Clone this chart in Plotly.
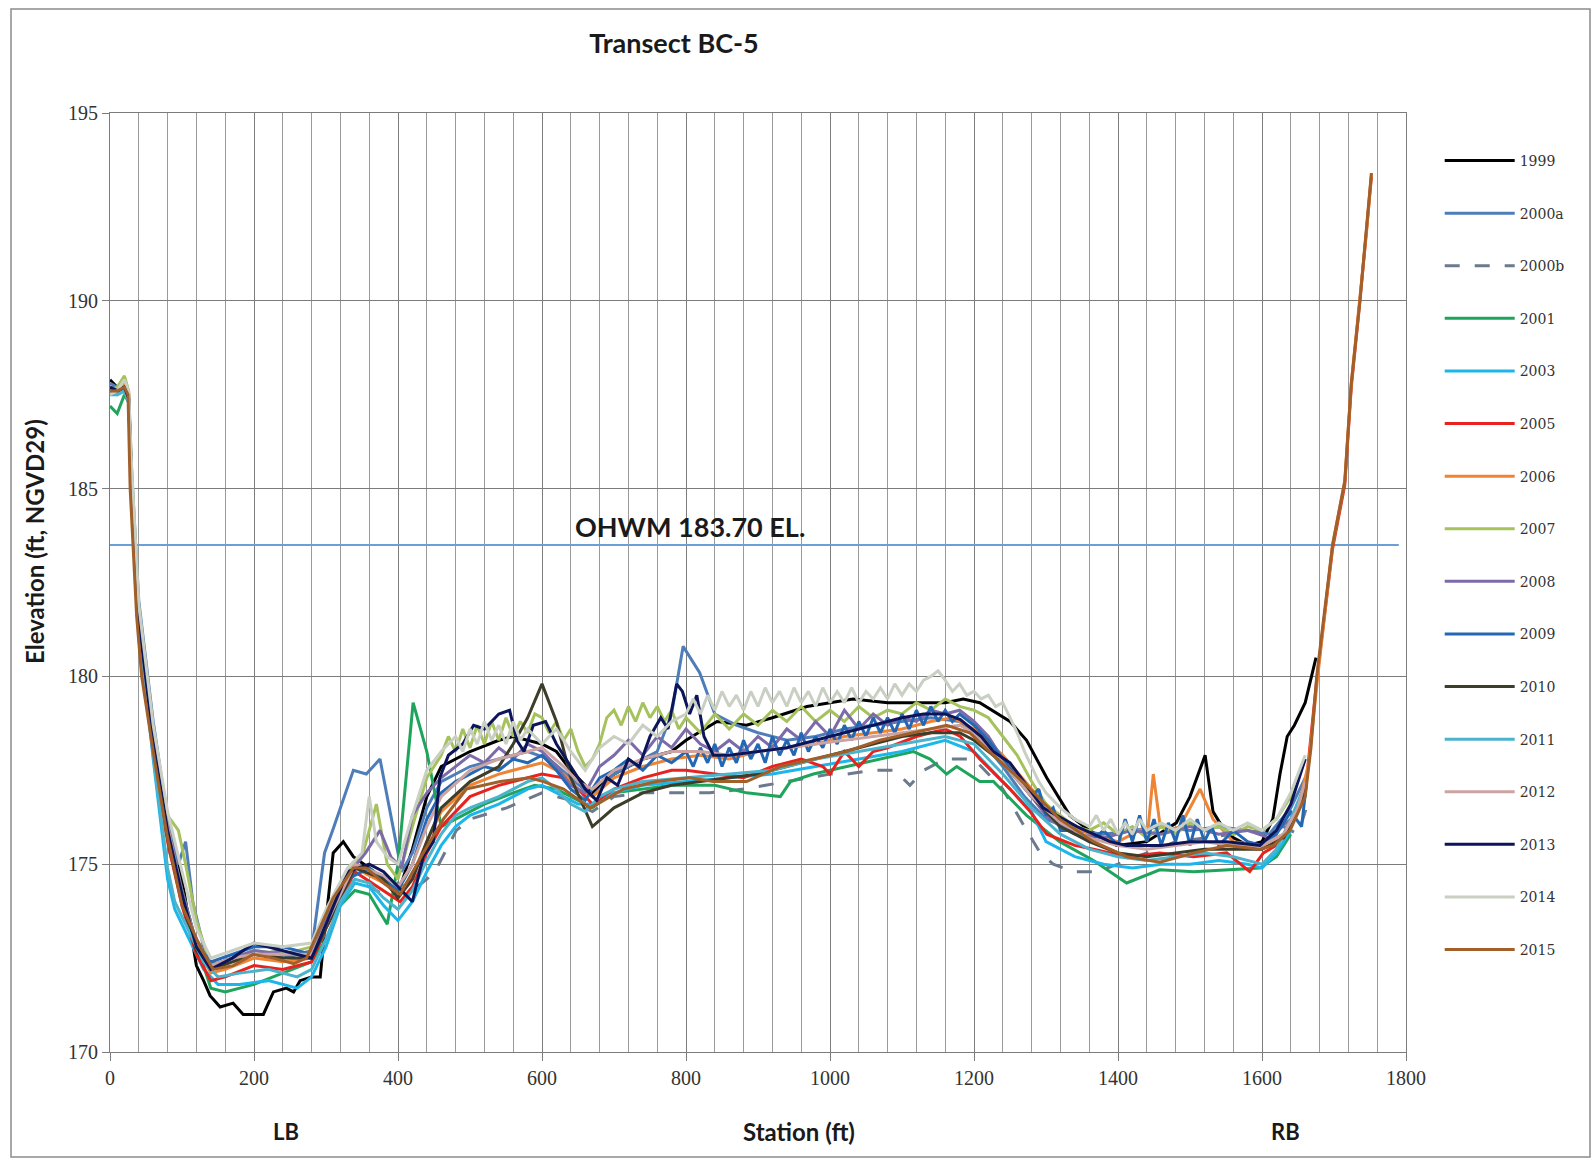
import plotly.graph_objects as go

# ---------------- data (station ft, elevation ft NGVD29) ----------------
D1999 = [(0,187.9),(10,187.7),(20,187.6),(26,187.3),(30,185.0),(40,181.5),(50,179.8),(60,178.6),(70,177.2),(80,176.3),(90,175.4),(100,174.6),(110,173.5),(120,172.3),(130,171.9),(139,171.5),(153,171.2),(171,171.3),(185,171.0),(200,171.0),(213,171.0),(227,171.6),(245,171.7),(255,171.6),(264,171.9),(280,172.0),(292,172.0),(296,172.8),(310,175.3),(324,175.6),(338,175.2),(360,174.9),(380,174.6),(400,174.2),(420,175.4),(440,176.8),(460,177.6),(500,178.0),(540,178.3),(560,178.4),(580,178.3),(600,178.2),(620,178.0),(640,177.5),(670,176.9),(700,177.4),(740,177.8),(780,178.0),(800,178.3),(843,178.8),(884,178.7),(920,178.9),(968,179.2),(1000,179.3),(1032,179.4),(1080,179.3),(1120,179.3),(1160,179.3),(1185,179.4),(1208,179.3),(1250,178.8),(1273,178.3),(1301,177.3),(1333,176.3),(1360,175.9),(1398,175.5),(1440,175.6),(1481,176.1),(1500,176.8),(1521,177.9),(1532,176.4),(1551,175.8),(1580,175.5),(1600,175.6),(1615,176.2),(1625,177.4),(1635,178.4),(1645,178.7),(1660,179.3),(1675,180.5)]

D2000A = [(0,187.8),(10,187.7),(20,187.8),(26,187.4),(30,185.5),(40,182.0),(60,178.8),(80,176.2),(95,175.0),(105,175.6),(115,174.0),(130,172.8),(140,172.3),(170,172.5),(200,172.6),(240,172.5),(280,172.7),(298,175.3),(311,176.0),(338,177.5),(356,177.4),(375,177.8),(393,176.0),(405,174.8),(420,175.3),(440,176.5),(460,177.2),(500,177.6),(540,177.8),(580,178.0),(610,177.8),(640,177.3),(670,176.8),(700,177.4),(740,177.8),(760,178.0),(780,179.0),(796,180.8),(819,180.1),(840,179.0),(870,178.7),(900,178.5),(940,178.3),(980,178.4),(1020,178.6),(1060,178.7),(1100,178.8),(1140,178.9),(1180,178.8),(1210,178.3),(1240,177.6),(1270,176.8),(1300,176.2),(1340,175.9),(1380,175.8),(1420,175.9),(1460,176.0),(1500,175.9),(1540,176.0),(1580,175.9),(1610,175.8),(1640,176.5),(1660,177.3)]

D2000B = [(0,187.7),(10,187.6),(20,187.7),(26,187.3),(30,185.0),(40,181.0),(60,178.2),(80,175.5),(100,174.2),(120,173.0),(140,172.4),(160,172.3),(200,172.6),(240,172.7),(280,172.5),(300,173.2),(320,174.0),(340,174.6),(360,174.4),(380,174.2),(400,174.5),(420,174.3),(440,174.6),(454,174.9),(481,175.9),(500,176.2),(551,176.5),(600,176.9),(640,176.7),(670,176.4),(700,176.8),(740,176.9),(800,176.9),(833,176.9),(880,177.0),(940,177.2),(1000,177.4),(1023,177.4),(1060,177.5),(1090,177.5),(1111,177.1),(1130,177.5),(1160,177.8),(1200,177.8),(1240,177.0),(1270,176.0),(1292,175.3),(1310,175.0),(1338,174.8),(1370,174.8),(1400,175.0),(1440,175.3),(1480,175.6),(1520,175.7),(1560,175.8),(1600,175.9),(1630,176.0),(1650,175.8),(1665,176.7)]

D2001 = [(0,187.2),(10,187.0),(20,187.5),(26,187.3),(30,185.0),(40,181.2),(60,178.3),(80,175.9),(100,174.3),(120,172.9),(140,171.7),(160,171.6),(200,171.8),(240,172.1),(280,172.4),(300,173.0),(320,173.9),(340,174.3),(360,174.2),(385,173.4),(400,175.0),(421,179.3),(440,178.0),(450,177.0),(460,176.0),(480,176.2),(520,176.6),(560,176.9),(590,177.1),(620,177.0),(650,176.7),(670,176.5),(700,176.9),(740,177.0),(780,177.1),(840,177.1),(884,176.9),(931,176.8),(945,177.2),(977,177.4),(1023,177.6),(1069,177.8),(1116,178.0),(1139,177.8),(1162,177.4),(1176,177.6),(1208,177.2),(1227,177.2),(1273,176.3),(1319,175.6),(1366,175.1),(1412,174.5),(1458,174.85),(1505,174.8),(1551,174.85),(1597,174.9),(1620,175.2),(1640,175.8)]

D2003 = [(0,187.5),(10,187.5),(20,187.6),(26,187.3),(30,185.2),(40,181.3),(60,177.8),(80,174.6),(90,173.8),(110,173.0),(130,172.2),(150,171.8),(180,171.8),(220,171.9),(260,171.7),(280,172.0),(300,172.8),(320,173.9),(340,174.5),(360,174.4),(380,173.9),(400,173.5),(420,174.0),(440,174.8),(460,175.5),(480,176.0),(500,176.3),(540,176.6),(580,177.0),(600,177.1),(630,176.8),(650,176.6),(670,176.6),(700,176.9),(740,177.1),(800,177.2),(860,177.3),(920,177.4),(980,177.6),(1040,177.8),(1100,178.0),(1160,178.3),(1200,178.0),(1240,177.2),(1280,176.4),(1300,175.6),(1340,175.2),(1380,175.0),(1420,174.9),(1460,175.0),(1500,175.0),(1540,175.1),(1580,175.0),(1600,174.9),(1620,175.3),(1640,175.9)]

D2005 = [(0,187.6),(10,187.6),(20,187.7),(26,187.5),(30,185.0),(40,181.4),(60,178.0),(80,175.6),(100,173.9),(120,172.6),(140,171.9),(160,172.0),(200,172.3),(240,172.2),(280,172.4),(300,173.3),(340,174.8),(380,174.3),(403,174.0),(420,174.4),(440,175.3),(460,176.0),(500,176.8),(540,177.1),(580,177.3),(600,177.4),(630,177.3),(650,177.0),(670,176.6),(700,177.0),(740,177.3),(780,177.5),(800,177.5),(840,177.4),(880,177.3),(920,177.6),(960,177.8),(990,177.6),(1000,177.4),(1020,178.0),(1040,177.6),(1060,178.0),(1080,178.1),(1120,178.4),(1160,178.6),(1181,178.4),(1208,177.8),(1250,177.0),(1278,176.4),(1301,175.8),(1340,175.5),(1366,175.4),(1412,175.2),(1458,175.3),(1505,175.2),(1551,175.3),(1583,174.8),(1602,175.3),(1620,175.5),(1640,176.0),(1660,176.9),(1676,179.9),(1698,183.4),(1715,185.1),(1724,187.7),(1736,190.0),(1745,191.8),(1752,193.3)]

D2006 = [(0,187.6),(10,187.6),(20,187.8),(26,187.5),(30,185.2),(40,181.5),(60,178.2),(80,175.8),(100,174.1),(120,172.8),(140,172.1),(160,172.2),(200,172.5),(240,172.4),(280,172.5),(300,173.4),(340,174.9),(380,174.5),(400,174.2),(420,174.7),(440,175.6),(460,176.4),(500,177.1),(540,177.4),(580,177.6),(600,177.7),(630,177.4),(650,177.0),(670,176.8),(700,177.3),(740,177.6),(780,177.8),(820,177.9),(860,177.8),(900,178.0),(940,178.1),(980,178.2),(1020,178.4),(1060,178.5),(1100,178.6),(1140,178.8),(1170,178.9),(1200,178.6),(1240,177.9),(1280,177.0),(1320,176.2),(1360,175.8),(1400,175.6),(1430,175.9),(1442,176.0),(1449,177.4),(1458,176.1),(1470,175.9),(1486,176.0),(1514,177.0),(1532,176.2),(1560,175.6),(1600,175.5),(1630,175.8),(1650,176.5),(1665,177.7),(1678,180.1),(1698,183.5),(1715,185.2),(1724,187.8),(1736,190.0),(1745,191.8),(1752,193.4)]

D2007 = [(0,187.6),(10,187.7),(20,188.0),(26,187.6),(30,185.5),(40,181.8),(60,178.6),(80,176.3),(95,175.9),(105,175.0),(120,173.5),(140,172.3),(170,172.5),(200,172.7),(240,172.6),(280,172.8),(300,173.6),(330,174.8),(350,175.2),(370,176.6),(385,175.0),(400,174.6),(420,176.0),(440,177.3),(460,177.9),(470,178.4),(480,178.0),(490,178.6),(500,178.1),(510,178.7),(520,178.2),(530,178.8),(540,178.3),(550,178.9),(560,178.4),(570,178.8),(580,178.5),(590,179.0),(600,178.9),(610,178.5),(620,178.8),(630,178.3),(640,178.6),(650,178.0),(660,177.6),(670,177.8),(680,178.2),(690,178.9),(700,179.1),(710,178.7),(720,179.2),(730,178.8),(740,179.3),(750,178.9),(760,179.2),(770,178.8),(780,179.1),(790,178.6),(800,178.9),(820,178.5),(840,179.0),(860,178.6),(880,179.0),(900,178.7),(920,179.1),(940,178.8),(960,179.2),(980,178.8),(1000,179.1),(1020,178.8),(1040,179.2),(1060,178.9),(1080,179.1),(1100,179.0),(1120,179.3),(1140,179.1),(1160,179.4),(1180,179.2),(1200,179.1),(1220,178.9),(1240,178.4),(1260,177.9),(1280,177.2),(1300,176.6),(1320,176.3),(1340,176.0),(1360,175.9),(1380,176.1),(1400,175.8),(1420,176.0),(1440,175.7),(1460,176.0),(1480,175.8),(1500,176.1),(1520,175.9),(1540,176.0),(1560,175.8),(1580,176.0),(1600,175.9),(1620,176.2),(1640,176.8),(1660,177.8)]

D2008 = [(0,187.7),(10,187.6),(20,187.7),(26,187.4),(30,185.3),(40,181.6),(60,178.4),(80,176.0),(100,174.3),(120,172.9),(140,172.3),(170,172.5),(200,172.7),(240,172.6),(280,172.6),(300,173.5),(330,174.7),(355,175.3),(375,175.9),(390,175.2),(405,174.9),(420,176.3),(440,176.9),(460,177.3),(480,177.6),(500,177.9),(520,177.7),(540,178.1),(560,177.8),(580,178.2),(600,178.0),(620,177.6),(640,177.1),(660,176.9),(680,177.6),(700,177.9),(720,178.3),(740,177.9),(760,178.4),(780,178.1),(800,178.6),(820,178.2),(840,178.0),(860,178.3),(880,178.0),(900,178.4),(920,178.1),(940,178.6),(960,178.3),(980,178.8),(1000,178.4),(1020,179.1),(1040,178.6),(1060,179.0),(1080,178.7),(1100,178.9),(1120,178.8),(1140,179.1),(1160,179.0),(1180,179.1),(1200,178.8),(1220,178.4),(1240,177.8),(1260,177.3),(1280,176.8),(1300,176.3),(1320,176.0),(1340,175.8),(1380,175.7),(1420,175.9),(1460,175.8),(1500,176.0),(1540,175.8),(1580,175.9),(1610,175.7),(1640,176.2),(1660,177.0)]

D2009 = [(0,187.7),(10,187.6),(20,187.7),(26,187.4),(30,185.2),(40,181.4),(60,178.2),(80,175.8),(100,174.2),(120,172.9),(140,172.4),(170,172.6),(200,172.8),(240,172.8),(280,172.6),(300,173.4),(330,174.6),(360,174.9),(380,174.6),(400,174.3),(420,175.0),(440,176.2),(460,176.9),(480,177.2),(500,177.4),(520,177.6),(540,177.5),(560,177.8),(580,177.7),(600,177.9),(620,177.5),(640,177.0),(660,176.7),(680,177.3),(700,177.5),(720,177.8),(740,177.5),(760,177.9),(780,177.7),(800,178.0),(810,177.6),(820,178.1),(830,177.7),(840,178.2),(850,177.6),(860,178.1),(870,177.7),(880,178.3),(890,177.8),(900,178.2),(910,177.7),(920,178.4),(930,177.9),(940,178.3),(950,177.9),(960,178.5),(970,178.0),(980,178.4),(990,178.1),(1000,178.6),(1010,178.2),(1020,178.7),(1030,178.3),(1040,178.8),(1050,178.4),(1060,178.9),(1070,178.5),(1080,178.9),(1090,178.5),(1100,179.0),(1110,178.6),(1120,179.1),(1130,178.7),(1140,179.2),(1150,178.8),(1160,179.1),(1170,178.8),(1180,179.0),(1200,178.7),(1220,178.3),(1240,177.8),(1260,177.3),(1280,176.8),(1290,177.0),(1300,176.3),(1310,176.5),(1320,175.9),(1340,175.9),(1360,175.6),(1380,175.9),(1400,175.5),(1410,176.2),(1420,175.6),(1430,176.3),(1440,175.6),(1450,176.2),(1460,175.5),(1470,176.1),(1480,175.6),(1490,176.3),(1500,175.5),(1510,176.2),(1520,175.6),(1530,176.0),(1540,175.5),(1560,175.9),(1580,175.6),(1600,175.5),(1620,175.8),(1640,176.4),(1655,176.0),(1662,177.2)]

D2010 = [(0,187.7),(10,187.6),(20,187.7),(26,187.4),(30,185.1),(40,181.3),(60,178.1),(80,175.7),(100,174.0),(120,172.7),(140,172.2),(170,172.4),(200,172.6),(240,172.5),(280,172.5),(300,173.3),(340,174.9),(380,174.6),(400,174.1),(420,174.6),(440,175.6),(460,176.5),(500,177.2),(540,177.6),(560,178.2),(580,178.9),(600,179.8),(620,178.8),(640,177.3),(670,176.0),(700,176.5),(740,176.9),(780,177.1),(820,177.2),(860,177.3),(900,177.4),(940,177.6),(980,177.8),(1020,178.0),(1060,178.2),(1100,178.4),(1140,178.5),(1180,178.5),(1200,178.3),(1240,177.7),(1280,176.8),(1320,176.0),(1360,175.6),(1400,175.3),(1440,175.2),(1480,175.3),(1520,175.4),(1560,175.4),(1600,175.4),(1630,175.7),(1650,176.4),(1660,177.0)]

D2011 = [(0,187.6),(10,187.5),(20,187.6),(26,187.3),(30,185.1),(40,181.3),(60,177.9),(80,174.9),(90,174.0),(110,173.2),(130,172.4),(150,172.0),(180,172.1),(220,172.2),(260,172.0),(280,172.2),(300,173.0),(320,174.0),(340,174.6),(360,174.5),(380,174.1),(400,173.8),(420,174.3),(440,175.1),(460,175.8),(480,176.3),(500,176.5),(540,176.8),(580,177.2),(600,177.3),(620,177.0),(640,176.6),(660,176.4),(680,176.8),(700,177.0),(740,177.2),(800,177.3),(860,177.4),(920,177.5),(980,177.8),(1040,178.0),(1100,178.2),(1160,178.4),(1200,178.2),(1240,177.4),(1280,176.5),(1320,175.8),(1360,175.4),(1400,175.2),(1440,175.1),(1480,175.2),(1520,175.3),(1560,175.2),(1600,175.0),(1620,175.4),(1640,176.2),(1655,176.9)]

D2012 = [(0,187.7),(10,187.6),(20,187.7),(26,187.4),(30,185.3),(40,181.5),(60,178.3),(80,176.0),(100,174.2),(120,172.9),(140,172.3),(170,172.5),(200,172.6),(240,172.6),(280,172.6),(300,173.4),(340,175.0),(380,174.7),(400,174.4),(420,175.0),(440,176.0),(460,176.8),(500,177.5),(540,177.8),(580,178.0),(600,178.1),(630,177.6),(650,177.2),(670,177.0),(700,177.5),(740,177.8),(780,178.0),(820,178.0),(860,177.9),(900,178.0),(940,178.1),(980,178.2),(1020,178.3),(1060,178.4),(1100,178.5),(1140,178.6),(1180,178.7),(1200,178.5),(1240,177.7),(1280,176.8),(1320,176.1),(1360,175.7),(1400,175.5),(1440,175.4),(1480,175.5),(1520,175.6),(1560,175.5),(1600,175.5),(1630,175.8),(1650,176.5),(1660,177.2)]

D2013 = [(0,187.7),(10,187.6),(20,187.7),(26,187.4),(30,185.2),(40,181.5),(60,178.3),(80,175.9),(100,174.2),(120,172.8),(140,172.2),(170,172.5),(200,172.9),(240,172.7),(280,172.5),(300,173.4),(330,174.8),(360,175.0),(380,174.8),(400,174.4),(420,174.0),(435,175.2),(449,175.6),(458,177.3),(470,177.9),(490,178.2),(505,178.7),(520,178.6),(540,179.0),(555,179.1),(565,178.3),(575,178.0),(588,178.7),(605,178.8),(620,178.2),(640,177.6),(660,177.0),(676,176.7),(690,177.3),(705,177.1),(720,177.8),(735,177.6),(750,178.4),(765,178.9),(775,178.6),(787,179.8),(795,179.6),(805,179.0),(815,179.5),(825,178.4),(838,177.9),(860,177.9),(900,178.0),(940,178.1),(980,178.3),(1020,178.5),(1060,178.7),(1100,178.9),(1130,179.0),(1160,179.0),(1181,178.85),(1210,178.4),(1227,178.0),(1250,177.7),(1296,176.5),(1343,176.0),(1389,175.6),(1412,175.5),(1460,175.5),(1500,175.6),(1551,175.6),(1597,175.5),(1620,175.9),(1640,176.6),(1660,177.8)]

D2014 = [(0,187.5),(10,187.6),(20,187.9),(26,187.6),(30,185.6),(40,181.9),(60,178.7),(80,176.4),(100,174.8),(120,173.3),(140,172.5),(170,172.7),(200,172.9),(240,172.8),(280,172.9),(300,173.8),(330,174.9),(350,175.3),(360,176.8),(370,175.6),(385,175.2),(400,175.0),(420,176.3),(440,177.5),(460,178.0),(480,178.4),(490,178.0),(500,178.6),(510,178.2),(520,178.8),(530,178.3),(540,178.7),(550,178.2),(560,178.8),(570,178.3),(580,178.6),(600,178.2),(620,178.6),(640,178.0),(660,177.5),(680,178.1),(700,178.4),(720,178.2),(740,178.7),(760,178.4),(780,178.8),(800,179.0),(810,179.4),(820,179.0),(830,179.5),(840,179.1),(850,179.6),(860,179.2),(870,179.5),(880,179.1),(890,179.6),(900,179.2),(910,179.7),(920,179.3),(930,179.6),(940,179.2),(950,179.7),(960,179.3),(970,179.6),(980,179.2),(990,179.7),(1000,179.3),(1010,179.6),(1020,179.3),(1030,179.7),(1040,179.3),(1050,179.6),(1060,179.4),(1070,179.7),(1080,179.4),(1090,179.8),(1100,179.5),(1110,179.8),(1120,179.6),(1130,179.9),(1140,180.0),(1150,180.15),(1160,179.9),(1170,179.6),(1180,179.8),(1190,179.5),(1200,179.6),(1210,179.4),(1220,179.5),(1230,179.2),(1240,179.3),(1250,178.9),(1260,178.5),(1270,178.0),(1280,177.6),(1290,177.2),(1300,176.9),(1320,176.5),(1340,176.2),(1360,176.0),(1370,176.3),(1380,175.9),(1390,176.2),(1400,175.8),(1410,176.1),(1420,175.8),(1430,176.2),(1440,175.9),(1460,176.1),(1480,175.9),(1500,176.2),(1520,175.9),(1540,176.1),(1560,175.9),(1580,176.1),(1600,175.9),(1620,176.2),(1640,176.9),(1660,177.9)]

D2015 = [(0,187.6),(10,187.6),(20,187.7),(25,187.5),(28,185.0),(32,183.5),(37,181.6),(44,180.0),(60,178.0),(79,175.8),(100,173.9),(125,172.8),(143,172.2),(171,172.3),(199,172.6),(227,172.5),(255,172.35),(273,172.5),(292,173.3),(310,174.1),(338,174.9),(356,174.9),(380,174.5),(403,174.2),(435,175.3),(463,176.2),(495,177.0),(542,177.2),(583,177.3),(602,177.2),(630,177.0),(667,176.5),(713,177.0),(759,177.2),(805,177.3),(838,177.2),(884,177.2),(931,177.6),(977,177.8),(1023,178.0),(1069,178.3),(1116,178.5),(1162,178.7),(1194,178.5),(1227,177.9),(1273,177.1),(1319,176.2),(1366,175.6),(1412,175.2),(1458,175.05),(1505,175.3),(1551,175.5),(1597,175.4),(1616,175.5),(1639,175.9),(1660,176.8),(1668,178.1),(1676,180.0),(1698,183.5),(1715,185.2),(1724,187.8),(1736,190.0),(1745,191.8),(1752,193.4)]

SERIES_NAMES = ["1999", "2000a", "2000b", "2001", "2003", "2005", "2006", "2007",
                "2008", "2009", "2010", "2011", "2012", "2013", "2014", "2015"]
SERIES_DATA = [D1999, D2000A, D2000B, D2001, D2003, D2005, D2006, D2007,
               D2008, D2009, D2010, D2011, D2012, D2013, D2014, D2015]

OHWM_ELEV = 183.5
OHWM_LABEL = "OHWM 183.70 EL."
X_TICKS = [0, 200, 400, 600, 800, 1000, 1200, 1400, 1600, 1800]
Y_TICKS = [170, 175, 180, 185, 190, 195]

# ---------------- styles ----------------
COLORS = ["#000000", "#4f7dba", "#6b7a8c", "#1fa55b", "#1db6ea", "#e8231f", "#ee8434", "#a5c25c",
          "#7d6aa8", "#2468b4", "#3d3d2a", "#4bb3cc", "#caa3a2", "#0d155a", "#c9cfc2", "#a15f2a"]
DASHES = ["solid", "solid", "longdash"] + ["solid"] * 13

fig = go.Figure()

# OHWM line
fig.add_trace(go.Scatter(x=[0, 1790], y=[OHWM_ELEV, OHWM_ELEV], mode="lines",
                         line=dict(color="#6b9fd6", width=2), showlegend=False, hoverinfo="skip"))

for i, (name, data) in enumerate(zip(SERIES_NAMES, SERIES_DATA)):
    xs = [p[0] for p in data]
    ys = [p[1] for p in data]
    fig.add_trace(go.Scatter(
        x=xs, y=ys, mode="lines", name=name, legendgroup=name,
        line=dict(color=COLORS[i], width=3, dash=DASHES[i]),
    ))

TXT = "#1a1a1a"
grid_major = "#7c7c7c"
grid_minor = "#9a9a9a"

fig.update_layout(
    width=1595, height=1161,
    margin=dict(l=110, r=189, t=113, b=109),
    paper_bgcolor="white", plot_bgcolor="white",
    title=dict(text="<b>Transect BC-5</b>", x=674 / 1595, xanchor="center",
               y=1 - 44 / 1161, yanchor="middle",
               font=dict(family="Lato", size=27, color=TXT)),
    legend=dict(x=1.026, xanchor="left", y=0.966, yanchor="top",
                font=dict(family="DejaVu Serif", size=14, color="#333333"),
                tracegroupgap=31.4, bgcolor="rgba(0,0,0,0)", itemwidth=70),
    xaxis=dict(range=[0, 1800], tickvals=X_TICKS, showgrid=True, gridcolor=grid_major, gridwidth=1,
               minor=dict(dtick=40, tick0=0, showgrid=True, gridcolor=grid_minor, gridwidth=1),
               ticks="outside", ticklen=8, tickcolor=grid_major,
               tickfont=dict(family="Liberation Serif", size=20, color="#333333"),
               showline=True, linecolor=grid_major, mirror=True, zeroline=False),
    yaxis=dict(range=[170, 195], tickvals=Y_TICKS, showgrid=True, gridcolor=grid_major, gridwidth=1,
               ticks="outside", ticklen=7, tickcolor=grid_major,
               tickfont=dict(family="Liberation Serif", size=20, color="#333333"),
               showline=True, linecolor=grid_major, mirror=True, zeroline=False),
    shapes=[dict(type="rect", xref="paper", yref="paper",
                 x0=(11 - 110) / 1296, x1=(1590 - 110) / 1296,
                 y0=(1052 - 1157) / 939, y1=(1052 - 9) / 939,
                 line=dict(color="#8c8c8c", width=1.5), fillcolor="rgba(0,0,0,0)")],
    annotations=[
        dict(text="<b>" + OHWM_LABEL + "</b>", x=643, y=184.0, xref="x", yref="y",
             xanchor="left", yanchor="middle", showarrow=False,
             font=dict(family="Lato", size=27, color=TXT)),
        dict(text="<b>Station (ft)</b>", x=957, y=(1052 - 1131) / 939, xref="x", yref="paper",
             xanchor="center", yanchor="middle", showarrow=False,
             font=dict(family="Lato", size=24, color=TXT)),
        dict(text="<b>LB</b>", x=244, y=(1052 - 1131) / 939, xref="x", yref="paper",
             xanchor="center", yanchor="middle", showarrow=False,
             font=dict(family="Lato", size=22, color=TXT)),
        dict(text="<b>RB</b>", x=1633, y=(1052 - 1131) / 939, xref="x", yref="paper",
             xanchor="center", yanchor="middle", showarrow=False,
             font=dict(family="Lato", size=22, color=TXT)),
        dict(text="<b>Elevation (ft, NGVD29)</b>", x=(34 - 110) / 1296, y=(1052 - 542) / 939,
             xref="paper", yref="paper", xanchor="center", yanchor="middle", textangle=-90,
             showarrow=False, font=dict(family="Lato", size=24, color=TXT)),
    ],
)

fig.write_html("out.html", config={"displayModeBar": False},
               post_script="document.body.style.margin='0px';document.body.style.overflow='hidden';")
